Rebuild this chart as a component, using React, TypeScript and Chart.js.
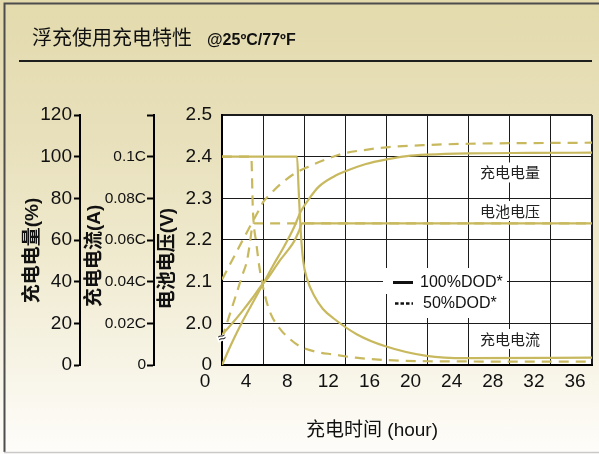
import React, { useEffect, useRef } from 'react';
import { Chart, registerables } from 'chart.js';

Chart.register(...registerables);

// ---------------- data ----------------
const hourTicks = [0, 4, 8, 12, 16, 20, 24, 28, 32, 36];
const chargeTicks = [0, 20, 40, 60, 80, 100, 120];
const currentTicks = [0, 0.02, 0.04, 0.06, 0.08, 0.1, 0.12];
const currentTickLabels = ['0', '0.02C', '0.04C', '0.06C', '0.08C', '0.1C', ''];
const voltageTicks = [1.9, 2.0, 2.1, 2.2, 2.3, 2.4, 2.5];
const voltageTickLabels = ['0', '2.0', '2.1', '2.2', '2.3', '2.4', '2.5'];

// 100% DOD (solid)
const charge100Hours = [0, 1, 2, 3, 4, 5, 6, 7, 7.7, 8.5, 9.4, 10.9, 12, 14, 16, 18, 20, 24, 30, 36];
const charge100Pct = [0, 11, 21, 30, 39, 48, 56.5, 66, 74, 80, 85.5, 90.5, 93, 96.5, 98.7, 100.3, 101, 101.6, 101.8, 101.9];
const voltage100Hours = [0, 1, 2, 3, 3.8, 4.5, 5.6, 6.4, 7.0, 7.5, 7.8, 36];
const voltage100V = [1.972, 2.0, 2.03, 2.062, 2.09, 2.11, 2.15, 2.175, 2.196, 2.222, 2.24, 2.24];
const current100Hours = [0, 7.3, 7.45, 7.65, 7.9, 8.3, 9.0, 9.8, 10.9, 13.1, 15.9, 19.9, 23.8, 36];
const current100C = [0.1, 0.1, 0.085, 0.065, 0.05, 0.041, 0.033, 0.027, 0.0222, 0.0148, 0.009, 0.0044, 0.0033, 0.0035];

// 50% DOD (dashed)
const charge50Hours = [0, 1, 2, 3, 3.6, 4.05, 4.6, 5.5, 7.1, 8.4, 10, 11.8, 14, 16, 20, 24, 36];
const charge50Pct = [41, 50.4, 59.8, 69, 74.5, 78.5, 81.5, 86, 92, 95.2, 98.5, 101.5, 103.3, 104.5, 105.6, 106.2, 106.7];
const voltage50Hours = [0, 1, 2, 2.43, 2.7, 2.9, 3.1, 36];
const voltage50V = [1.964, 2.04, 2.117, 2.15, 2.19, 2.225, 2.24, 2.24];
const current50Hours = [0, 2.85, 3.0, 3.35, 3.7, 4.2, 4.7, 5.7, 6.6, 7.5, 9, 10.9, 13, 15.9, 20, 36];
const current50C = [0.1, 0.1, 0.075, 0.058, 0.045, 0.033, 0.025, 0.017, 0.0125, 0.0092, 0.0065, 0.005, 0.0035, 0.0024, 0.0018, 0.0016];

const legendLabels = ['100%DOD*', '50%DOD*'];
const curveLabels = ['充电电量', '电池电压', '充电电流'];

// ---------------- style ----------------
const CURVE = '#c8b95f';
const GRID = '#1c1c1c';
const LATIN = '"Liberation Sans", Arial, sans-serif';
const MIXED = '"Liberation Sans", "Noto Sans CJK SC", sans-serif';
const CJK = '"Noto Sans CJK SC", sans-serif';

const pts = (xs: number[], ys: number[]) => xs.map((x, i) => ({ x, y: ys[i] }));

const decor = {
  id: 'decor',
  beforeDraw(chart: any) {
    const { ctx, chartArea: a } = chart;
    ctx.save();
    ctx.fillStyle = '#ffffff';
    ctx.fillRect(a.left, a.top, a.right - a.left, a.bottom - a.top);
    // frame
    ctx.strokeStyle = '#4d4d4d';
    ctx.lineWidth = 2;
    ctx.beginPath();
    ctx.moveTo(3.5, 3.5);
    ctx.lineTo(599, 3.5);
    ctx.moveTo(4.5, 3);
    ctx.lineTo(4.5, 452);
    ctx.stroke();
    ctx.strokeStyle = '#c9c9c9';
    ctx.lineWidth = 1.5;
    ctx.beginPath();
    ctx.moveTo(4, 452.5);
    ctx.lineTo(599, 452.5);
    ctx.stroke();
    // title
    ctx.fillStyle = '#111';
    ctx.textBaseline = 'alphabetic';
    ctx.textAlign = 'left';
    ctx.font = `20px ${CJK}`;
    ctx.fillText('浮充使用充电特性', 32, 45);
    ctx.font = `bold 16px ${LATIN}`;
    ctx.fillText('@25ºC/77ºF', 207, 45);
    ctx.strokeStyle = '#1e1e1e';
    ctx.lineWidth = 2;
    ctx.beginPath();
    ctx.moveTo(19, 61);
    ctx.lineTo(592, 61);
    ctx.stroke();
    // x axis title
    ctx.font = `19px ${MIXED}`;
    ctx.textAlign = 'center';
    ctx.textBaseline = 'middle';
    ctx.fillStyle = '#111';
    ctx.fillText('充电时间 (hour)', 372, 431);
    ctx.restore();
  },
  beforeDatasetsDraw(chart: any) {
    const { ctx } = chart;
    ctx.save();
    // legend
    ctx.fillStyle = '#ffffff';
    ctx.fillRect(383, 268, 124, 26);
    ctx.fillRect(387, 294, 120, 24);
    ctx.strokeStyle = '#111';
    ctx.lineWidth = 3;
    ctx.setLineDash([]);
    ctx.beginPath();
    ctx.moveTo(393, 282.5);
    ctx.lineTo(413, 282.5);
    ctx.stroke();
    ctx.lineWidth = 2.5;
    ctx.setLineDash([3.5, 2]);
    ctx.beginPath();
    ctx.moveTo(395, 303.5);
    ctx.lineTo(413, 303.5);
    ctx.stroke();
    ctx.setLineDash([]);
    ctx.fillStyle = '#111';
    ctx.font = `16px ${LATIN}`;
    ctx.textAlign = 'left';
    ctx.textBaseline = 'middle';
    ctx.fillText(legendLabels[0], 420, 283);
    ctx.fillText(legendLabels[1], 423, 304);
    // curve labels
    ctx.font = `15px ${CJK}`;
    ctx.textAlign = 'center';
    const ys = [172.5, 211, 339];
    curveLabels.forEach((t, i) => {
      const w = ctx.measureText(t).width;
      ctx.fillStyle = '#ffffff';
      ctx.fillRect(510 - w / 2 - 3, ys[i] - 10, w + 6, 20);
      ctx.fillStyle = '#222';
      ctx.fillText(t, 510, ys[i]);
    });
    ctx.restore();
  },
  afterDatasetsDraw(chart: any) {
    const { ctx, chartArea: a } = chart;
    ctx.save();
    ctx.translate(a.left, 338);
    ctx.rotate(-0.35);
    ctx.fillStyle = '#ffffff';
    ctx.fillRect(-5, -3, 10, 6);
    ctx.fillStyle = '#222';
    ctx.font = `14px ${LATIN}`;
    ctx.textAlign = 'center';
    ctx.textBaseline = 'middle';
    ctx.fillText('≈', 0, 0);
    ctx.restore();
  },
};

function fixedTicks(values: number[]) {
  return (scale: any) => {
    scale.ticks = values.map((v) => ({ value: v }));
  };
}

export default function App() {
  const ref = useRef<HTMLCanvasElement>(null);
  useEffect(() => {
    const solid = { borderColor: CURVE, borderWidth: 2.2, pointRadius: 0, fill: false };
    const dashed = { ...solid, borderDash: [10, 7] };
    const chart = new Chart(ref.current as HTMLCanvasElement, {
      type: 'line',
      data: {
        datasets: [
          { label: '充电电量 100%DOD*', data: pts(charge100Hours, charge100Pct), yAxisID: 'yPct', ...solid },
          { label: '电池电压 100%DOD*', data: pts(voltage100Hours, voltage100V), yAxisID: 'yV', ...solid },
          { label: '充电电流 100%DOD*', data: pts(current100Hours, current100C), yAxisID: 'yCur', ...solid },
          { label: '充电电量 50%DOD*', data: pts(charge50Hours, charge50Pct), yAxisID: 'yPct', ...dashed },
          { label: '电池电压 50%DOD*', data: pts(voltage50Hours, voltage50V), yAxisID: 'yV', ...dashed },
          { label: '充电电流 50%DOD*', data: pts(current50Hours, current50C), yAxisID: 'yCur', ...dashed },
        ] as any,
      },
      options: {
        responsive: false,
        devicePixelRatio: 1,
        animation: false,
        events: [],
        layout: { padding: { left: 0, top: 115, right: 7, bottom: 0 } },
        elements: { line: { cubicInterpolationMode: 'monotone' } as any, point: { radius: 0 } },
        plugins: { legend: { display: false }, tooltip: { enabled: false }, title: { display: false } },
        scales: {
          x: {
            type: 'linear',
            min: 0,
            max: 36,
            afterBuildTicks: fixedTicks(hourTicks),
            afterFit: (s: any) => {
              s.height = 89;
              s.paddingLeft = 0;
              s.paddingRight = 0;
            },
            grid: {
              color: GRID,
              lineWidth: (c: any) => (c.index === hourTicks.length - 1 ? 2 : 1),
              drawTicks: false,
            },
            border: { display: true, color: '#000', width: 2 },
            ticks: {
              autoSkip: false,
              maxRotation: 0,
              padding: 5,
              labelOffset: -17,
              color: '#111',
              font: { family: LATIN, size: 19 },
              callback: (v: any) => String(v),
            },
          },
          yV: {
            type: 'linear',
            position: 'left',
            weight: 0,
            min: 1.9,
            max: 2.5,
            afterBuildTicks: fixedTicks(voltageTicks),
            afterFit: (s: any) => {
              s.width = 68;
            },
            grid: {
              color: GRID,
              lineWidth: (c: any) => (c.index === voltageTicks.length - 1 ? 2 : 1),
              drawTicks: false,
            },
            border: { display: true, color: '#000', width: 2 },
            ticks: {
              padding: 10,
              color: '#111',
              font: { family: LATIN, size: 19 },
              callback: (_v: any, i: number) => voltageTickLabels[i],
            },
            title: {
              display: true,
              text: '电池电压(V)       ',
              color: '#111',
              font: { family: MIXED, size: 19, weight: 'bold' },
              padding: { top: 2.6, bottom: 0 },
            },
          },
          yCur: {
            type: 'linear',
            position: 'left',
            weight: 1,
            min: 0,
            max: 0.12,
            afterBuildTicks: fixedTicks(currentTicks),
            afterFit: (s: any) => {
              s.width = 74;
            },
            grid: { drawOnChartArea: false, drawTicks: true, tickLength: 7, tickColor: '#000', tickWidth: 2 },
            border: { display: true, color: '#000', width: 2 },
            ticks: {
              padding: 1,
              color: '#111',
              font: { family: LATIN, size: 15.5 },
              callback: (_v: any, i: number) => currentTickLabels[i],
            },
            title: {
              display: true,
              text: '充电电流(A)      ',
              color: '#111',
              font: { family: MIXED, size: 19, weight: 'bold' },
              padding: { top: 3, bottom: 0 },
            },
          },
          yPct: {
            type: 'linear',
            position: 'left',
            weight: 2,
            min: 0,
            max: 120,
            afterBuildTicks: fixedTicks(chargeTicks),
            afterFit: (s: any) => {
              s.width = 80;
            },
            grid: { drawOnChartArea: false, drawTicks: true, tickLength: 6, tickColor: '#000', tickWidth: 2 },
            border: { display: true, color: '#000', width: 2 },
            ticks: {
              padding: 2,
              color: '#111',
              font: { family: LATIN, size: 19 },
              callback: (v: any) => String(v),
            },
            title: {
              display: true,
              text: '充电电量(%)    ',
              color: '#111',
              font: { family: MIXED, size: 19, weight: 'bold' },
              padding: { top: 21.5, bottom: 0 },
            },
          },
        } as any,
      },
      plugins: [decor],
    });
    return () => chart.destroy();
  }, []);

  return (
    <div
      style={{
        position: 'fixed',
        left: 0,
        top: 0,
        width: 599,
        height: 454,
        background:
          'linear-gradient(to bottom, #e3daad 0%, #e8e0bb 30%, #efe9cd 55%, #f7f4e6 80%, #fefdfa 100%)',
      }}
    >
      <canvas ref={ref} width={599} height={454} style={{ display: 'block', width: 599, height: 454 }} />
    </div>
  );
}
